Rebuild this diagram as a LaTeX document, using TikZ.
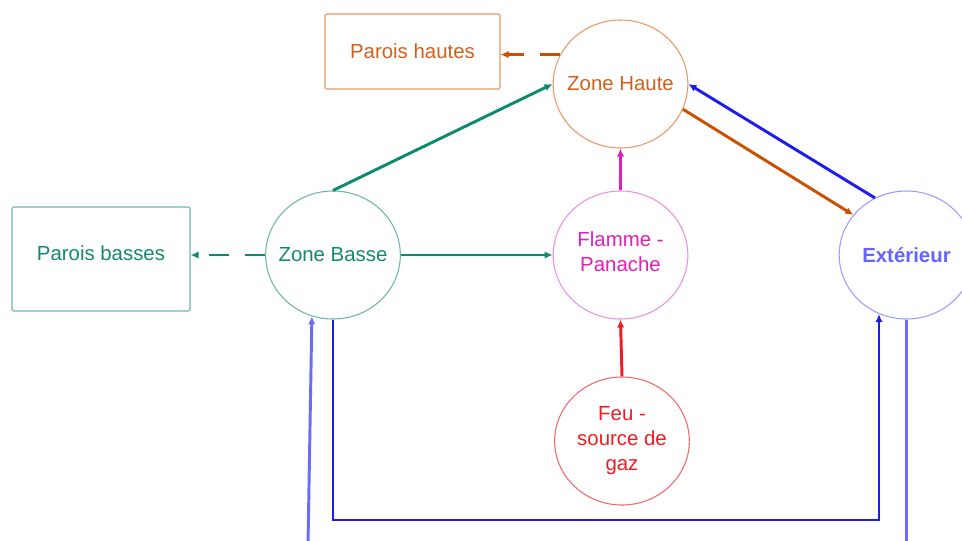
\documentclass[tikz,border=0pt]{standalone}
\usepackage{fontspec}
\setmainfont{Liberation Sans}
\usetikzlibrary{shapes.geometric,arrows.meta}

\definecolor{hautText}{HTML}{D2601A}
\definecolor{hautLine}{HTML}{E89A68}
\definecolor{hautArrow}{HTML}{CC5000}
\definecolor{basText}{HTML}{128A70}
\definecolor{basLine}{HTML}{6DB8AA}
\definecolor{basArrow}{HTML}{0E8A6E}
\definecolor{flamText}{HTML}{E020B8}
\definecolor{flamLine}{HTML}{EC90E0}
\definecolor{feuText}{HTML}{EE1C25}
\definecolor{feuLine}{HTML}{F06A6A}
\definecolor{extText}{HTML}{6464FF}
\definecolor{extLine}{HTML}{9C9CFF}
\definecolor{blueDark}{HTML}{1C1CEE}
\definecolor{blueLight}{HTML}{6A6AFF}

\tikzset{
  lbl/.style={font=\fontsize{15.3}{18.8}\selectfont, align=center},
  zone/.style={lbl, ellipse, line width=0.8pt, minimum width=101pt, minimum height=96pt, inner xsep=-8pt, inner ysep=-4pt},
  wall/.style={lbl, rectangle, rounded corners=1pt, line width=0.8pt},
  flow/.style={line width=2.2pt, -{Latex[length=6pt,width=5.5pt]}},
  leak/.style={flow, dash pattern=on 15pt off 12pt},
}

\begin{document}
\begin{tikzpicture}[x=0.75pt, y=-0.75pt]
  \clip (0,0) rectangle (962,540);
  \fill[white] (0,0) rectangle (962,540);

  % compartments
  \node[zone, draw=hautLine, text=hautText] (ZH) at (620.5,84) {Zone Haute};
  \node[zone, draw=basLine, text=basText] (ZB) at (333,255) {Zone Basse};
  \node[zone, draw=flamLine, text=flamText, text depth=5pt] (FP) at (620.5,255) {Flamme -\\Panache};
  \node[zone, draw=extLine, text=extText, font=\fontsize{15.3}{18.8}\selectfont\bfseries] (EX) at (906.5,255) {Extérieur};
  \node[zone, draw=feuLine, text=feuText] (FE) at (622,441) {Feu -\\source de\\gaz};

  % walls
  \node[wall, draw=hautLine, text=hautText, minimum width=131.25pt, minimum height=56.25pt] (PH) at (412.5,51.5) {Parois hautes};
  \node[wall, draw=basLine, text=basText, minimum width=133.5pt, minimum height=78pt, text depth=9pt] (PB) at (101,259) {Parois basses};

  % free ends of the open boundaries
  \coordinate (floor) at (0,520);
  \coordinate (edge) at (308,545);

  % heat losses to the walls
  \draw[leak, hautArrow] (ZH.154) -- (ZH.154 -| PH.east);
  \draw[leak, basArrow] (ZB.west) -- (ZB.west -| PB.east);

  % smoke and air flows
  \draw[flow, basArrow] (ZB.north) -- (ZH.west);
  \draw[flow, basArrow] (ZB.east) -- (FP.west);
  \draw[flow, flamText] (FP.north) -- (ZH.south);
  \draw[flow, feuText] (FE.north) -- (FP.south);
  \draw[flow, hautArrow] (ZH.-22) -- (EX.143);
  \draw[flow, blueDark] (EX.119) -- (ZH.east);
  \draw[flow, blueDark] (ZB.south) -- (ZB.south |- floor) -| (EX.245);
  \draw[flow, blueLight] (edge) -- (ZB.251);
  \draw[line width=2.2pt, blueLight] (EX.south) -- (EX.south |- edge);
\end{tikzpicture}
\end{document}
